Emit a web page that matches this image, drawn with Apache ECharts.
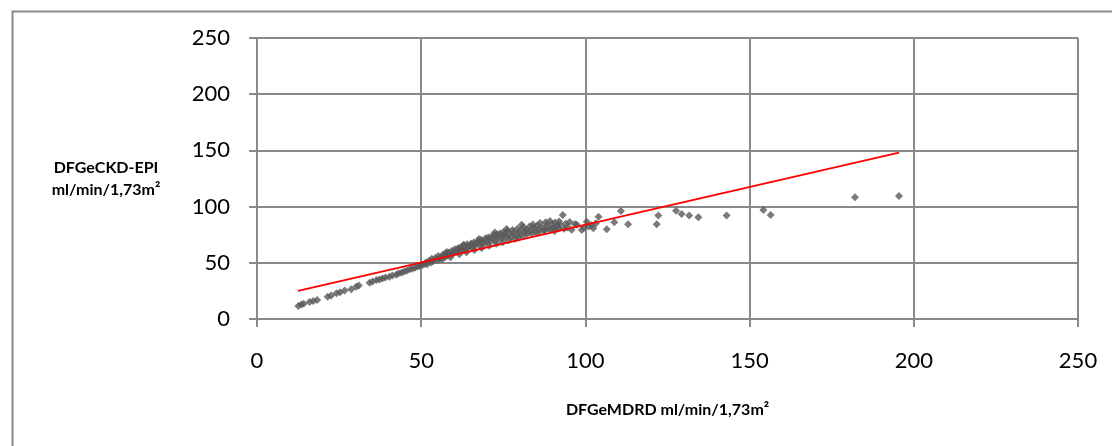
<!DOCTYPE html>
<html><head><meta charset="utf-8">
<script src="https://cdn.jsdelivr.net/npm/echarts@6/dist/echarts.min.js"></script>
<style>html,body{margin:0;padding:0;background:#fff}#c{width:1112px;height:446px}</style>
</head><body><div id="c"></div>
<script>
const xTicks = [0, 50, 100, 150, 200, 250];
const yTicks = [0, 50, 100, 150, 200, 250];
const xAxisName = 'DFGeMDRD ml/min/1,73m²';
const yAxisName = 'DFGeCKD-EPI\nml/min/1,73m²';
const mdrd = [12.6,13.5,14.2,16.0,17.1,18.3,21.5,22.6,24.2,25.3,26.7,28.7,30.2,31.0,34.3,35.2,36.4,37.3,38.2,39.1,40.3,41.2,42.4,43.1,44.0,44.8,45.6,46.5,47.3,48.1,48.9,49.6,50.4,51.1,
 51.5,51.8,52.4,53.0,53.2,53.6,54.3,55.0,55.2,55.6,56.1,56.7,57.2,57.5,58.0,58.4,59.1,59.3,59.8,60.2,60.5,60.9,61.3,61.8,62.2,62.6,63.1,63.5,64.0,64.3,64.8,65.2,65.6,66.0,66.4,67.0,67.3,67.9,68.2,68.7,69.1,69.6,70.0,70.4,70.9,71.3,71.8,72.2,72.7,73.1,73.6,74.0,74.5,75.0,75.3,75.8,76.2,76.9,77.3,77.8,78.2,78.9,79.3,80.0,80.2,80.6,81.1,81.6,82.0,82.5,83.0,83.4,84.0,84.3,84.8,85.3,85.9,86.2,86.8,87.3,87.9,88.2,88.8,89.2,89.9,90.3,90.8,91.4,92.0,92.3,93.1,94.0,94.6,95.2,96.8,98.9,100.4,101.0,102.4,104.0,106.5,108.8,110.8,113.0,121.7,122.2,127.6,129.3,131.6,134.4,143.0,154.2,156.4,182.1,195.5,
 56.4,58.9,61.6,63.8,66.2,68.4,70.7,72.9,74.8,76.6,78.5,79.7,81.4,83.7,85.6,87.6,89.5,90.6,91.8,93.5,95.8,97.4,99.5,101.8,103.2,57.8,62.9,67.6,72.4,76.0];
const ckdepi = [11.6,12.8,13.5,15.2,16.0,17.0,19.8,20.9,22.9,23.8,25.4,26.4,28.6,29.8,32.2,33.4,34.6,35.1,36.0,36.9,37.5,38.8,39.4,40.6,41.1,42.3,42.9,44.2,44.8,45.5,46.6,47.2,48.1,49.0,
 50.5,48.6,51.7,50.2,53.5,51.4,54.2,52.6,56.0,53.8,55.2,57.4,54.9,58.3,56.6,59.2,57.5,60.4,58.6,62.0,59.8,61.4,63.2,60.5,64.0,62.1,65.3,61.8,66.4,63.6,64.9,67.2,63.8,68.1,65.7,66.9,69.5,65.9,70.6,68.0,67.2,71.8,69.4,72.5,68.6,73.1,70.9,74.2,69.8,75.3,72.4,76.0,71.6,77.1,74.3,73.0,78.2,75.6,72.9,79.1,76.7,74.4,80.3,78.0,75.2,83.8,81.6,77.9,79.5,76.3,82.4,78.6,84.1,80.9,77.8,83.2,79.6,85.4,81.7,78.6,86.0,83.1,80.2,87.1,84.3,81.3,85.8,82.6,86.7,83.9,92.5,84.8,81.4,86.2,84.5,79.2,86.6,82.3,80.7,91.0,79.8,86.0,96.0,84.2,84.2,92.0,96.4,93.4,92.0,90.5,92.0,97.0,92.5,108.3,109.4,
 53.1,55.0,57.6,59.4,61.3,63.2,65.1,67.0,68.3,70.0,71.4,72.6,74.3,75.9,76.8,78.9,79.7,78.3,80.6,80.2,79.5,83.8,81.2,83.5,85.1,59.6,66.0,71.2,76.9,80.1];
const trendX = [12.5, 195.5];
const trendY = [25.0, 148.0];

const points = mdrd.map((x, i) => [x, ckdepi[i]]);
const trend = trendX.map((x, i) => [x, trendY[i]]);
const gridColor = '#898989';
const font = 'Lato, "Open Sans", sans-serif';

const chart = echarts.init(document.getElementById('c'), null, {renderer: 'canvas'});
chart.setOption({
  animation: false,
  backgroundColor: '#fff',
  graphic: [{
    type: 'rect', left: 10, top: 9, shape: {width: 1200, height: 600},
    style: {fill: 'none', stroke: '#8a8a8a', lineWidth: 2}, silent: true, z: -1
  }],
  grid: {left: 257, right: 34, top: 38, bottom: 127, show: false},
  xAxis: {
    type: 'value', min: 0, max: 250, interval: 50,
    name: xAxisName, nameLocation: 'middle', nameGap: 83,
    nameTextStyle: {fontFamily: font, fontSize: 16, fontWeight: 'bold', color: '#000'},
    axisLine: {show: true, lineStyle: {color: gridColor, width: 2}},
    axisTick: {show: true, length: 8, lineStyle: {color: gridColor, width: 2}},
    axisLabel: {fontFamily: font, fontSize: 22, color: '#000', margin: 31,
      formatter: v => xTicks.includes(v) ? String(v) : ''},
    splitLine: {show: true, lineStyle: {color: gridColor, width: 2}}
  },
  yAxis: {
    type: 'value', min: 0, max: 250, interval: 50,
    name: yAxisName, nameLocation: 'middle', nameGap: 151, nameRotate: 0,
    nameTextStyle: {fontFamily: font, fontSize: 16, fontWeight: 'bold', color: '#000',
      align: 'center', verticalAlign: 'middle', lineHeight: 22, padding: [5, 0, 0, 0]},
    axisLine: {show: true, lineStyle: {color: gridColor, width: 2}},
    axisTick: {show: true, length: 8, lineStyle: {color: gridColor, width: 2}},
    axisLabel: {fontFamily: font, fontSize: 22, color: '#000', margin: 27,
      formatter: v => yTicks.includes(v) ? String(v) : ''},
    splitLine: {show: true, lineStyle: {color: gridColor, width: 2}}
  },
  series: [{
    type: 'scatter', data: points, symbol: 'diamond', symbolSize: 8,
    itemStyle: {color: '#595959'}, z: 3
  }, {
    type: 'line', data: trend, symbol: 'none',
    lineStyle: {color: '#ff0000', width: 2}, z: 4
  }]
});
</script></body></html>
